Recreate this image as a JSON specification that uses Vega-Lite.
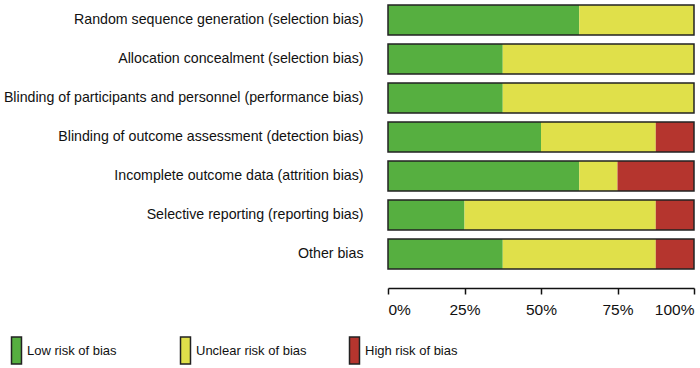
{
  "$schema": "https://vega.github.io/schema/vega-lite/v6.json",
  "autosize": {"type": "none"},
  "padding": {"left": 388, "top": 0, "right": 6, "bottom": 94},
  "width": 306,
  "height": 274,
  "background": "white",
  "config": {
    "view": {"stroke": null},
    "font": "Liberation Sans, Arial",
    "axis": {"labelFont": "Liberation Sans, Arial", "labelColor": "#111"},
    "legend": {"labelFont": "Liberation Sans, Arial", "labelColor": "#111"}
  },
  "data": {
    "values": [
      {"domain": "Random sequence generation (selection bias)", "risk": "Low risk of bias", "k": 1, "pct": 62.5},
      {"domain": "Random sequence generation (selection bias)", "risk": "Unclear risk of bias", "k": 2, "pct": 37.5},
      {"domain": "Random sequence generation (selection bias)", "risk": "High risk of bias", "k": 3, "pct": 0},
      {"domain": "Allocation concealment (selection bias)", "risk": "Low risk of bias", "k": 1, "pct": 37.5},
      {"domain": "Allocation concealment (selection bias)", "risk": "Unclear risk of bias", "k": 2, "pct": 62.5},
      {"domain": "Allocation concealment (selection bias)", "risk": "High risk of bias", "k": 3, "pct": 0},
      {"domain": "Blinding of participants and personnel (performance bias)", "risk": "Low risk of bias", "k": 1, "pct": 37.5},
      {"domain": "Blinding of participants and personnel (performance bias)", "risk": "Unclear risk of bias", "k": 2, "pct": 62.5},
      {"domain": "Blinding of participants and personnel (performance bias)", "risk": "High risk of bias", "k": 3, "pct": 0},
      {"domain": "Blinding of outcome assessment (detection bias)", "risk": "Low risk of bias", "k": 1, "pct": 50},
      {"domain": "Blinding of outcome assessment (detection bias)", "risk": "Unclear risk of bias", "k": 2, "pct": 37.5},
      {"domain": "Blinding of outcome assessment (detection bias)", "risk": "High risk of bias", "k": 3, "pct": 12.5},
      {"domain": "Incomplete outcome data (attrition bias)", "risk": "Low risk of bias", "k": 1, "pct": 62.5},
      {"domain": "Incomplete outcome data (attrition bias)", "risk": "Unclear risk of bias", "k": 2, "pct": 12.5},
      {"domain": "Incomplete outcome data (attrition bias)", "risk": "High risk of bias", "k": 3, "pct": 25},
      {"domain": "Selective reporting (reporting bias)", "risk": "Low risk of bias", "k": 1, "pct": 25},
      {"domain": "Selective reporting (reporting bias)", "risk": "Unclear risk of bias", "k": 2, "pct": 62.5},
      {"domain": "Selective reporting (reporting bias)", "risk": "High risk of bias", "k": 3, "pct": 12.5},
      {"domain": "Other bias", "risk": "Low risk of bias", "k": 1, "pct": 37.5},
      {"domain": "Other bias", "risk": "Unclear risk of bias", "k": 2, "pct": 50},
      {"domain": "Other bias", "risk": "High risk of bias", "k": 3, "pct": 12.5}
    ]
  },
  "encoding": {
    "y": {
      "field": "domain",
      "type": "nominal",
      "sort": null,
      "title": null,
      "scale": {"paddingInner": 0.23, "paddingOuter": 0.13},
      "axis": {"domain": false, "ticks": false, "labelFontSize": 14.2, "labelPadding": 25, "labelLimit": 400}
    }
  },
  "layer": [
    {
      "mark": {"type": "bar"},
      "encoding": {
        "x": {
          "field": "pct",
          "type": "quantitative",
          "stack": "zero",
          "title": null,
          "scale": {"domain": [0, 100], "nice": false},
          "axis": {
            "values": [0, 25, 50, 75, 100],
            "labelExpr": "datum.value + '%'",
            "labelFlush": true,
            "labelFontSize": 15.5,
            "labelPadding": 8,
            "grid": false,
            "offset": 14,
            "domainColor": "#111",
            "domainWidth": 1.5,
            "tickColor": "#111",
            "tickWidth": 1.5,
            "tickSize": 6
          }
        },
        "color": {
          "field": "risk",
          "type": "nominal",
          "title": null,
          "scale": {
            "domain": ["Low risk of bias", "Unclear risk of bias", "High risk of bias"],
            "range": ["#56AF40", "#E0E04A", "#B5352E"]
          },
          "legend": {
            "orient": "none",
            "legendX": -386,
            "legendY": 336,
            "direction": "horizontal",
            "columns": 3,
            "gridAlign": "all",
            "columnPadding": 33,
            "symbolType": "M-0.37,-1L0.37,-1L0.37,1L-0.37,1Z",
            "symbolSize": 729,
            "symbolStrokeColor": "#222",
            "symbolStrokeWidth": 1.5,
            "symbolOpacity": 1,
            "labelFontSize": 13,
            "labelOffset": -4,
            "labelLimit": 300
          }
        },
        "order": {"field": "k", "type": "quantitative"}
      }
    },
    {
      "transform": [{"filter": "datum.k == 1"}],
      "mark": {"type": "bar", "fill": null, "fillOpacity": 0, "stroke": "#222", "strokeWidth": 1.5},
      "encoding": {
        "x": {"datum": 0, "type": "quantitative"},
        "x2": {"datum": 100}
      }
    }
  ]
}
